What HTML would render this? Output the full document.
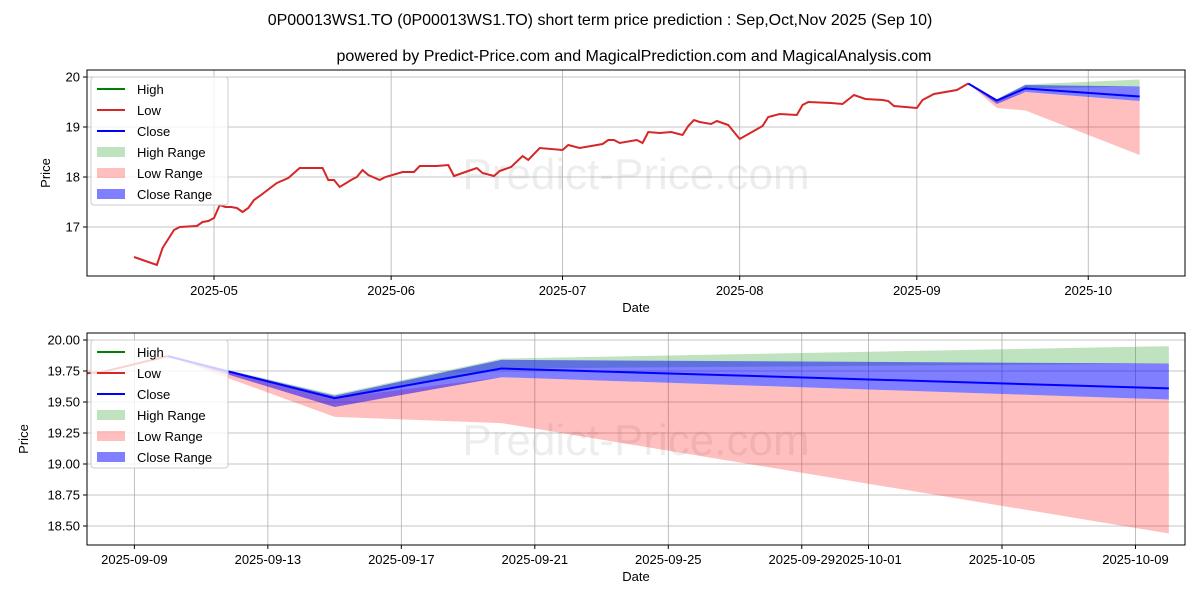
<!DOCTYPE html>
<html><head><meta charset="utf-8"><style>
body{margin:0;background:#fff;}
svg{display:block;font-family:"Liberation Sans","DejaVu Sans",sans-serif;}
</style></head><body>
<svg id="c" width="1200" height="600">
<text x="600" y="25" text-anchor="middle" font-size="16">0P00013WS1.TO (0P00013WS1.TO) short term price prediction : Sep,Oct,Nov 2025 (Sep 10)</text>
<text x="634" y="61" text-anchor="middle" font-size="16">powered by Predict-Price.com and MagicalPrediction.com and MagicalAnalysis.com</text>
</svg>
<script>
// historical close (days relative to 2025-05-01)
const histDays=[-14,-10,-9,-7,-6,-3,-2,-1,0,1,2,3,4,5,6,7,8,11,13,15,19,20,21,22,24,25,26,27,29,30,33,35,36,39,41,42,45,46,47,49,50,52,54,55,57,61,62,64,68,69,70,71,74,75,76,78,80,82,83,84,85,87,88,90,92,96,97,99,102,103,104,108,110,112,114,117,118,119,123,124,126,130,132];
const histClose=[16.40,16.24,16.58,16.94,17.00,17.02,17.10,17.12,17.18,17.44,17.40,17.40,17.38,17.30,17.38,17.54,17.62,17.88,17.98,18.18,18.18,17.94,17.94,17.80,17.94,18.00,18.14,18.04,17.94,18.00,18.10,18.10,18.22,18.22,18.24,18.02,18.14,18.18,18.08,18.02,18.12,18.20,18.42,18.34,18.58,18.54,18.64,18.58,18.66,18.74,18.74,18.68,18.74,18.68,18.90,18.88,18.90,18.84,19.02,19.14,19.10,19.06,19.12,19.04,18.76,19.02,19.20,19.26,19.24,19.44,19.50,19.48,19.46,19.64,19.56,19.54,19.52,19.42,19.38,19.54,19.66,19.74,19.87];
// prediction
const predDays=[132,137,142,162];
const predClose=[19.87,19.53,19.77,19.61];
const closeHi=[19.87,19.55,19.84,19.81];
const closeLo=[19.87,19.46,19.70,19.52];
const highHi=[19.87,19.56,19.85,19.95];
const highLo=[19.87,19.53,19.77,19.81];
const lowHi=[19.87,19.53,19.70,19.52];
const lowLo=[19.87,19.38,19.33,18.44];
const topYTicks=[17,18,19,20];
const topXLabels=["2025-05","2025-06","2025-07","2025-08","2025-09","2025-10"];
const topXDays=[0,31,61,92,123,153];
const botYTicks=[18.5,18.75,19.0,19.25,19.5,19.75,20.0];
const botXLabels=["2025-09-09","2025-09-13","2025-09-17","2025-09-21","2025-09-25","2025-09-29","2025-10-01","2025-10-05","2025-10-09"];
const botXDays=[131,135,139,143,147,151,153,157,161];

const NS="http://www.w3.org/2000/svg";
const svg=document.getElementById('c');
function mk(t,a,p){const e=document.createElementNS(NS,t);for(const k in a)e.setAttribute(k,a[k]);(p||svg).appendChild(e);return e;}

function panel(o){
  const root=mk('g',{});
  
  
  let g=root;
  const X=d=>o.x0+(d-o.d0)*o.px;
  const Y=v=>o.yb-(v-o.v0)*o.py;
  const w=mk('text',{x:(o.L+o.R)/2,y:(o.T+o.B)/2+16,'text-anchor':'middle','font-size':44,fill:'#000','fill-opacity':0.07},g);
  w.textContent='Predict-Price.com';
  
  
  o.yt.forEach(v=>{const y=Y(v);
    mk('line',{x1:o.L,x2:o.R,y1:y,y2:y,stroke:'#b0b0b0','stroke-width':0.8},g);
    mk('line',{x1:o.L-4,x2:o.L,y1:y,y2:y,stroke:'#000'},g);
    const t=mk('text',{x:o.L-7,y:y+4.5,'text-anchor':'end','font-size':13},g);
    t.textContent=o.yfmt(v);
    
    
  });
  o.xd.forEach((d,i)=>{const x=X(d);
    mk('line',{x1:x,x2:x,y1:o.T,y2:o.B,stroke:'#b0b0b0','stroke-width':0.8},g);
    mk('line',{x1:x,x2:x,y1:o.B,y2:o.B+4,stroke:'#000'},g);
    const t=mk('text',{x:x,y:o.B+19,'text-anchor':'middle','font-size':13},g);
    t.textContent=o.xl[i];
    
    
  });
  const cp=mk('clipPath',{id:o.name+'-clip'},g);mk('rect',{x:o.L,y:o.T,width:o.R-o.L,height:o.B-o.T},cp);
  const inner=mk('g',{'clip-path':'url(#'+o.name+'-clip)'},g);
  const band=(hi,lo,col,op,nm)=>{
    let d='';predDays.forEach((dd,i)=>{d+=(i?'L':'M')+X(dd)+','+Y(hi[i]);});
    for(let i=predDays.length-1;i>=0;i--)d+='L'+X(predDays[i])+','+Y(lo[i]);
    const p=mk('path',{d:d+'Z',fill:col,'fill-opacity':op,stroke:'none'},inner);
    
    
  };
  band(highHi,highLo,'#2ca02c',0.3,'high-range-band');
  band(lowHi,lowLo,'#ff0000',0.25,'low-range-band');
  band(closeHi,closeLo,'#0000ff',0.5,'close-range-band');
  if(o.hist){
    const p=mk('polyline',{points:histDays.map((d,i)=>X(d)+','+Y(histClose[i])).join(' '),fill:'none',stroke:'#d62728','stroke-width':2},inner);
    
    
  }
  const pl=mk('polyline',{points:predDays.map((d,i)=>X(d)+','+Y(predClose[i])).join(' '),fill:'none',stroke:'#0000ff','stroke-width':2},inner);
  
  
  mk('rect',{x:o.L,y:o.T,width:o.R-o.L,height:o.B-o.T,fill:'none',stroke:'#000','stroke-width':1},g);
  const yl=mk('text',{x:0,y:0,transform:'translate('+(o.L-o.ylo)+','+((o.T+o.B)/2)+') rotate(-90)','text-anchor':'middle','font-size':13},g);
  yl.textContent='Price';
  const xl=mk('text',{x:(o.L+o.R)/2,y:o.B+36,'text-anchor':'middle','font-size':13},g);
  xl.textContent='Date';
  const lg=mk('g',{},g);
  mk('rect',{x:o.L+4,y:o.T+7,width:137,height:128,rx:3,fill:'#fff','fill-opacity':0.8,stroke:'#ccc'},lg);
  const items=[['High','#008000','l'],['Low','#d62728','l'],['Close','#0000ff','l'],['High Range','rgba(44,160,44,0.3)','b'],['Low Range','rgba(255,0,0,0.25)','b'],['Close Range','rgba(0,0,255,0.5)','b']];
  items.forEach((it,i)=>{const y=o.T+19+i*21;
    if(it[2]=='l')mk('line',{x1:o.L+10,x2:o.L+38,y1:y,y2:y,stroke:it[1],'stroke-width':2},lg);
    else mk('rect',{x:o.L+10,y:y-5,width:28,height:10,fill:it[1]},lg);
    const t=mk('text',{x:o.L+50,y:y+5,'font-size':13},lg);t.textContent=it[0];
    
    
  });
}
panel({name:'history-panel',L:87,R:1185,T:70,B:276,x0:214,d0:0,px:5.714,yb:227,v0:17,py:50,yt:topYTicks,yfmt:v=>String(v),xd:topXDays,xl:topXLabels,hist:true,ylo:37});
panel({name:'forecast-panel',L:87,R:1185,T:333,B:545,x0:101,d0:130,px:33.37,yb:340,v0:20,py:124,yt:botYTicks,yfmt:v=>v.toFixed(2),xd:botXDays,xl:botXLabels,hist:true,ylo:59});
</script>
</body></html>
